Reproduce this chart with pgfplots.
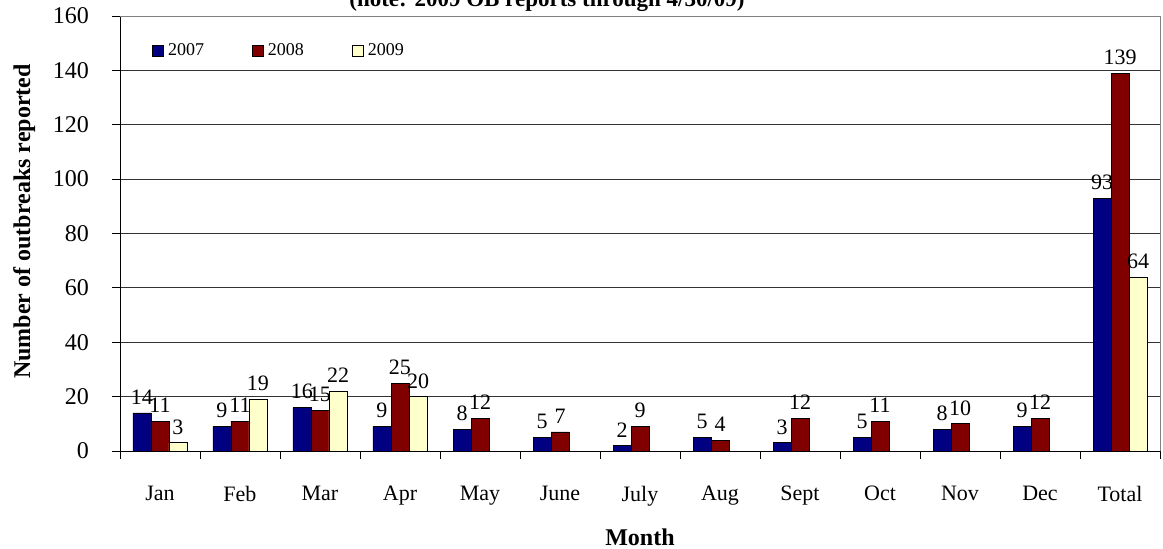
\documentclass[border=0pt]{standalone}
\usepackage{pgfplots}
\pgfplotsset{compat=1.18}
\usepackage{fontspec}
\setmainfont{Liberation Serif}
\definecolor{c07}{RGB}{0,0,128}
\definecolor{c08}{RGB}{128,0,0}
\definecolor{c09}{RGB}{255,255,204}
\begin{document}
\begin{tikzpicture}
\begin{axis}[
  scale only axis,
  width=520pt, height=217.5pt,
  ybar=0pt, bar width=9pt,
  xmin=-0.5, xmax=12.5,
  ymin=0, ymax=160,
  ytick={0,20,...,160},
  xtick={-0.5,0.5,...,12.5},
  xticklabels={},
  extra x ticks={0,...,12},
  extra x tick labels={Jan,Feb,Mar,Apr,May,June,July,Aug,Sept,Oct,Nov,Dec,Total},
  extra x tick style={grid=none, tick style={draw=none}},
  major tick length=4pt,
  axis x line*=bottom, axis y line*=left,
  axis line style={black, thin},
  tick style={black, thin},
  tick align=outside,
  ymajorgrids, major grid style={black!80, thin},
  /pgf/number format/assume math mode=true,
  tick label style={font=\fontsize{11}{13}\selectfont},
  y tick label style={font=\fontsize{12}{14}\selectfont, xshift=-8pt},
  x tick label style={yshift=-10pt},
  ylabel={Number of outbreaks reported},
  xlabel={Month},
  label style={font=\fontsize{12}{14}\selectfont\bfseries},
  ylabel style={yshift=2pt, xshift=6pt},
  xlabel style={yshift=-0.5pt},
  every node near coord/.append style={font=\fontsize{11}{13}\selectfont, black, inner sep=1pt, yshift=3pt},
  nodes near coords,
  legend style={at={(0.025,0.955)}, anchor=north west, draw=none, fill=none,
    legend columns=-1, font=\fontsize{9}{11}\selectfont,
    /tikz/every even column/.append style={column sep=22pt}},
  legend image code/.code={\draw[#1, draw=black] (0pt,-2.5pt) rectangle (5.5pt,3pt);},
  after end axis/.code={\draw[gray] (rel axis cs:1,0) -- (rel axis cs:1,1);
     \draw[gray] (rel axis cs:0,1) -- (rel axis cs:1,1);},
]
\addplot[fill=c07, draw=black, thin] coordinates {(0,14) (1,9) (2,16) (3,9) (4,8) (5,5) (6,2) (7,5) (8,3) (9,5) (10,8) (11,9) (12,93)};
\addplot[fill=c08, draw=black, thin] coordinates {(0,11) (1,11) (2,15) (3,25) (4,12) (5,7) (6,9) (7,4) (8,12) (9,11) (10,10) (11,12) (12,139)};
\addplot[fill=c09, draw=black, thin] coordinates {(0,3) (1,19) (2,22) (3,20) (12,64)};
\legend{2007,2008,2009}
\end{axis}
\node[anchor=base, font=\fontsize{11.5}{13}\selectfont\bfseries] at (213.5pt,222.5pt) {(note: 2009 OB reports through 4/30/09)};
\pgfresetboundingbox
\path[use as bounding box] (-60pt,-48.5pt) rectangle (521.5pt,225.5pt);
\end{tikzpicture}
\end{document}
